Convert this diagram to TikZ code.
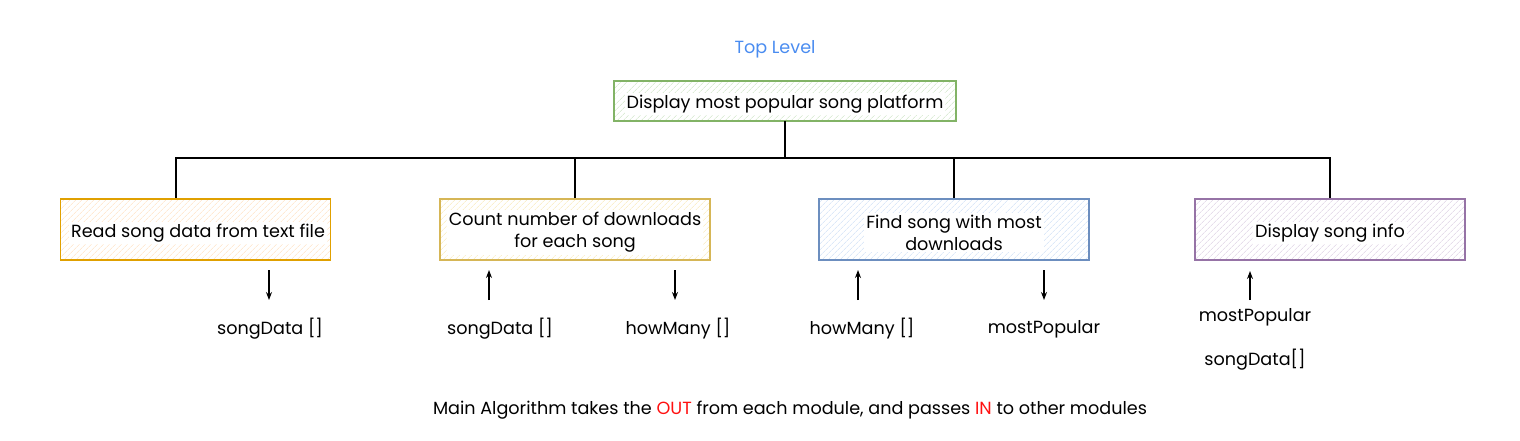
\documentclass[tikz,border=0pt]{standalone}
\usepackage{fontspec}
\setmainfont{Poppins}
\usetikzlibrary{arrows.meta,patterns.meta}
\definecolor{toplvl}{HTML}{4A8CF0}
\definecolor{gstroke}{HTML}{82B366}
\definecolor{gfill}{HTML}{C9E2C0}
\definecolor{ostroke}{HTML}{E0A000}
\definecolor{ofill}{HTML}{FFDDBB}
\definecolor{ystroke}{HTML}{D6B656}
\definecolor{yfill}{HTML}{F7E7B0}
\definecolor{bstroke}{HTML}{6C8EBF}
\definecolor{bfill}{HTML}{CADCF5}
\definecolor{pstroke}{HTML}{9673A6}
\definecolor{pfill}{HTML}{D9CBE0}
\definecolor{redtxt}{HTML}{FF1010}
\tikzset{
  txt/.style={font=\fontsize{17.6}{22}\selectfont, text=black, align=center, inner sep=1pt, yshift=-2pt},
  modbox/.style={draw=#1stroke, line width=1.1pt, minimum width=270pt, minimum height=61pt,
     pattern={Lines[angle=45,distance=4pt,line width=0.5pt]}, pattern color=#1fill},
  boxlabel/.style={txt, fill=white, inner sep=2pt},
  conn/.style={line width=1.2pt, black},
  arr/.style={line width=1.1pt, black, -{Stealth[length=8pt,width=6pt]}},
}
\begin{document}
\begin{tikzpicture}[x=1pt,y=-1pt]
\useasboundingbox (0,0) rectangle (1520,440);

\node[txt, text=toplvl] (toplevel) at (775,47) {Top Level};

% top box
\node[modbox=g, minimum width=342pt, minimum height=40pt] (top) at (785,101) {};
\node[boxlabel] (toptxt) at (785,102) {Display most popular song platform};

% module boxes
\node[modbox=o] (b1) at (195.5,229.5) {};
\node[boxlabel] (b1t) at (198,231) {Read song data from text file};
\node[modbox=y] (b2) at (575,229.5) {};
\node[boxlabel] (b2t) at (575,230.5) {Count number of downloads\\for each song};
\node[modbox=b] (b3) at (954,229.5) {};
\node[boxlabel] (b3t) at (954,230.5) {Find song with most\\downloads};
\node[modbox=p] (b4) at (1330,229.5) {};
\node[boxlabel] (b4t) at (1330,231) {Display song info};

% connectors
\coordinate (j) at (785,158);
\draw[conn] (top.south) -- (j);
\draw[conn] (j) -| ([xshift=-19.5pt]b1.north);
\draw[conn] (j) -| (b2.north);
\draw[conn] (j) -| (b3.north);
\draw[conn] (j) -| (b4.north);

% data labels
\node[txt] (l1) at (270,327) {songData []};
\node[txt] (l2a) at (500,327) {songData []};
\node[txt] (l2b) at (678,327) {howMany []};
\node[txt] (l3a) at (862,327) {howMany []};
\node[txt] (l3b) at (1044,327) {mostPopular};
\node[txt] (l4a) at (1255,315) {mostPopular};
\node[txt] (l4b) at (1255,358) {songData[]};

% data arrows
\coordinate (a1s) at (269,270); \coordinate (a1e) at (269,300);
\coordinate (a2s) at (489,300); \coordinate (a2e) at (489,270);
\coordinate (a3s) at (675,270); \coordinate (a3e) at (675,300);
\coordinate (a4s) at (858,300); \coordinate (a4e) at (858,270);
\coordinate (a5s) at (1044,270); \coordinate (a5e) at (1044,300);
\coordinate (a6s) at (1250,300); \coordinate (a6e) at (1250,271);
\draw[arr] (a1s) -- (a1e);
\draw[arr] (a2s) -- (a2e);
\draw[arr] (a3s) -- (a3e);
\draw[arr] (a4s) -- (a4e);
\draw[arr] (a5s) -- (a5e);
\draw[arr] (a6s) -- (a6e);

\node[txt] (note) at (790,408) {Main Algorithm takes the \textcolor{redtxt}{OUT} from each module, and passes \textcolor{redtxt}{IN} to other modules};
\end{tikzpicture}
\end{document}
